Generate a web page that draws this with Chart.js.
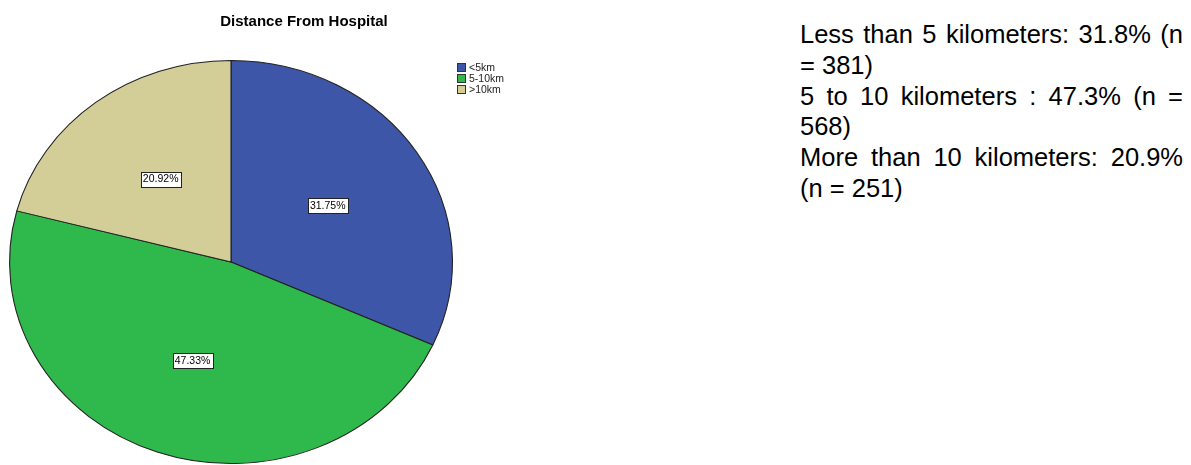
<!DOCTYPE html>
<html>
<head>
<meta charset="utf-8">
<script src="https://cdn.jsdelivr.net/npm/chart.js@4"></script>
<style>
  html, body { margin: 0; padding: 0; background: #fff; }
  body { width: 1191px; height: 465px; position: relative; overflow: hidden; }
  #wrap { position: absolute; left: 0; top: 0; width: 600px; height: 465px; }
  #notes { position: absolute; left: 800px; top: 19px; width: 383px;
           font-family: Arial, "Liberation Sans", sans-serif; font-size: 25.5px; line-height: 30.8px;
           color: #000; text-align: justify; }
  #notes p { margin: 0; }
</style>
</head>
<body>
<div id="wrap"><canvas id="c" width="600" height="465"></canvas></div>
<div id="notes">
  <p>Less than 5 kilometers: 31.8% (n = 381)</p>
  <p>5 to 10 kilometers : 47.3% (n = 568)</p>
  <p>More than 10 kilometers: 20.9% (n = 251)</p>
</div>
<script>
const categories = ['<5km', '5-10km', '>10km'];
const counts = [381, 568, 251];
const colors = ['#3D56A8', '#2FB84B', '#D3CE98'];
const chartTitle = 'Distance From Hospital';

const SX = 1.099; // horizontal stretch of the pie (elliptical look)

const ellipsePlugin = {
  id: 'ellipse',
  beforeDatasetsDraw(chart) {
    const arc = chart.getDatasetMeta(0).data[0];
    const ctx = chart.ctx;
    ctx.save();
    ctx.translate(arc.x, arc.y);
    ctx.scale(SX, 1);
    ctx.translate(-arc.x, -arc.y);
  },
  afterDatasetsDraw(chart) {
    chart.ctx.restore();
  }
};

const labelPlugin = {
  id: 'sliceLabels',
  afterDraw(chart) {
    const ctx = chart.ctx;
    const ds = chart.data.datasets[0];
    const total = ds.data.reduce((a, b) => a + b, 0);
    const meta = chart.getDatasetMeta(0);
    ctx.save();
    ctx.font = '10.5px Arial, "Liberation Sans", sans-serif';
    ctx.textAlign = 'center';
    ctx.textBaseline = 'middle';
    meta.data.forEach((arc, i) => {
      const p = arc.getProps(['x', 'y', 'startAngle', 'endAngle', 'outerRadius']);
      const mid = (p.startAngle + p.endAngle) / 2;
      const r = p.outerRadius * 0.52;
      const x = p.x + Math.cos(mid) * r * SX;
      const y = p.y + Math.sin(mid) * r;
      const txt = (ds.data[i] / total * 100).toFixed(2) + '%';
      const w = ctx.measureText(txt).width + 4;
      const h = 15;
      ctx.fillStyle = '#fff';
      ctx.fillRect(Math.round(x - w / 2) + 0.5, Math.round(y - h / 2) + 0.5, Math.round(w), h);
      ctx.strokeStyle = '#222';
      ctx.lineWidth = 1;
      ctx.strokeRect(Math.round(x - w / 2) + 0.5, Math.round(y - h / 2) + 0.5, Math.round(w), h);
      ctx.fillStyle = '#000';
      ctx.fillText(txt, x, y + 0.5);
    });
    // title
    ctx.font = 'bold 15px Arial, "Liberation Sans", sans-serif';
    ctx.fillStyle = '#000';
    ctx.textAlign = 'center';
    ctx.fillText(chartTitle, 304, 22);
    // legend
    ctx.font = '10.5px Arial, "Liberation Sans", sans-serif';
    ctx.textAlign = 'left';
    chart.data.labels.forEach((lab, i) => {
      const y = 63 + i * 11;
      ctx.fillStyle = ds.backgroundColor[i];
      ctx.fillRect(457.5, y + 0.5, 8, 8);
      ctx.strokeStyle = '#333';
      ctx.strokeRect(457.5, y + 0.5, 8, 8);
      ctx.fillStyle = '#222';
      ctx.fillText(lab, 469, y + 5);
    });
    ctx.restore();
  }
};

new Chart(document.getElementById('c'), {
  type: 'pie',
  data: {
    labels: categories,
    datasets: [{
      data: counts,
      backgroundColor: colors,
      borderColor: '#222',
      borderWidth: 1
    }]
  },
  options: {
    responsive: false,
    animation: false,
    layout: { padding: { top: 60, bottom: 1, left: 29, right: 167 } },
    plugins: {
      legend: { display: false },
      tooltip: { enabled: false },
      title: { display: false }
    }
  },
  plugins: [ellipsePlugin, labelPlugin]
});
</script>
</body>
</html>
